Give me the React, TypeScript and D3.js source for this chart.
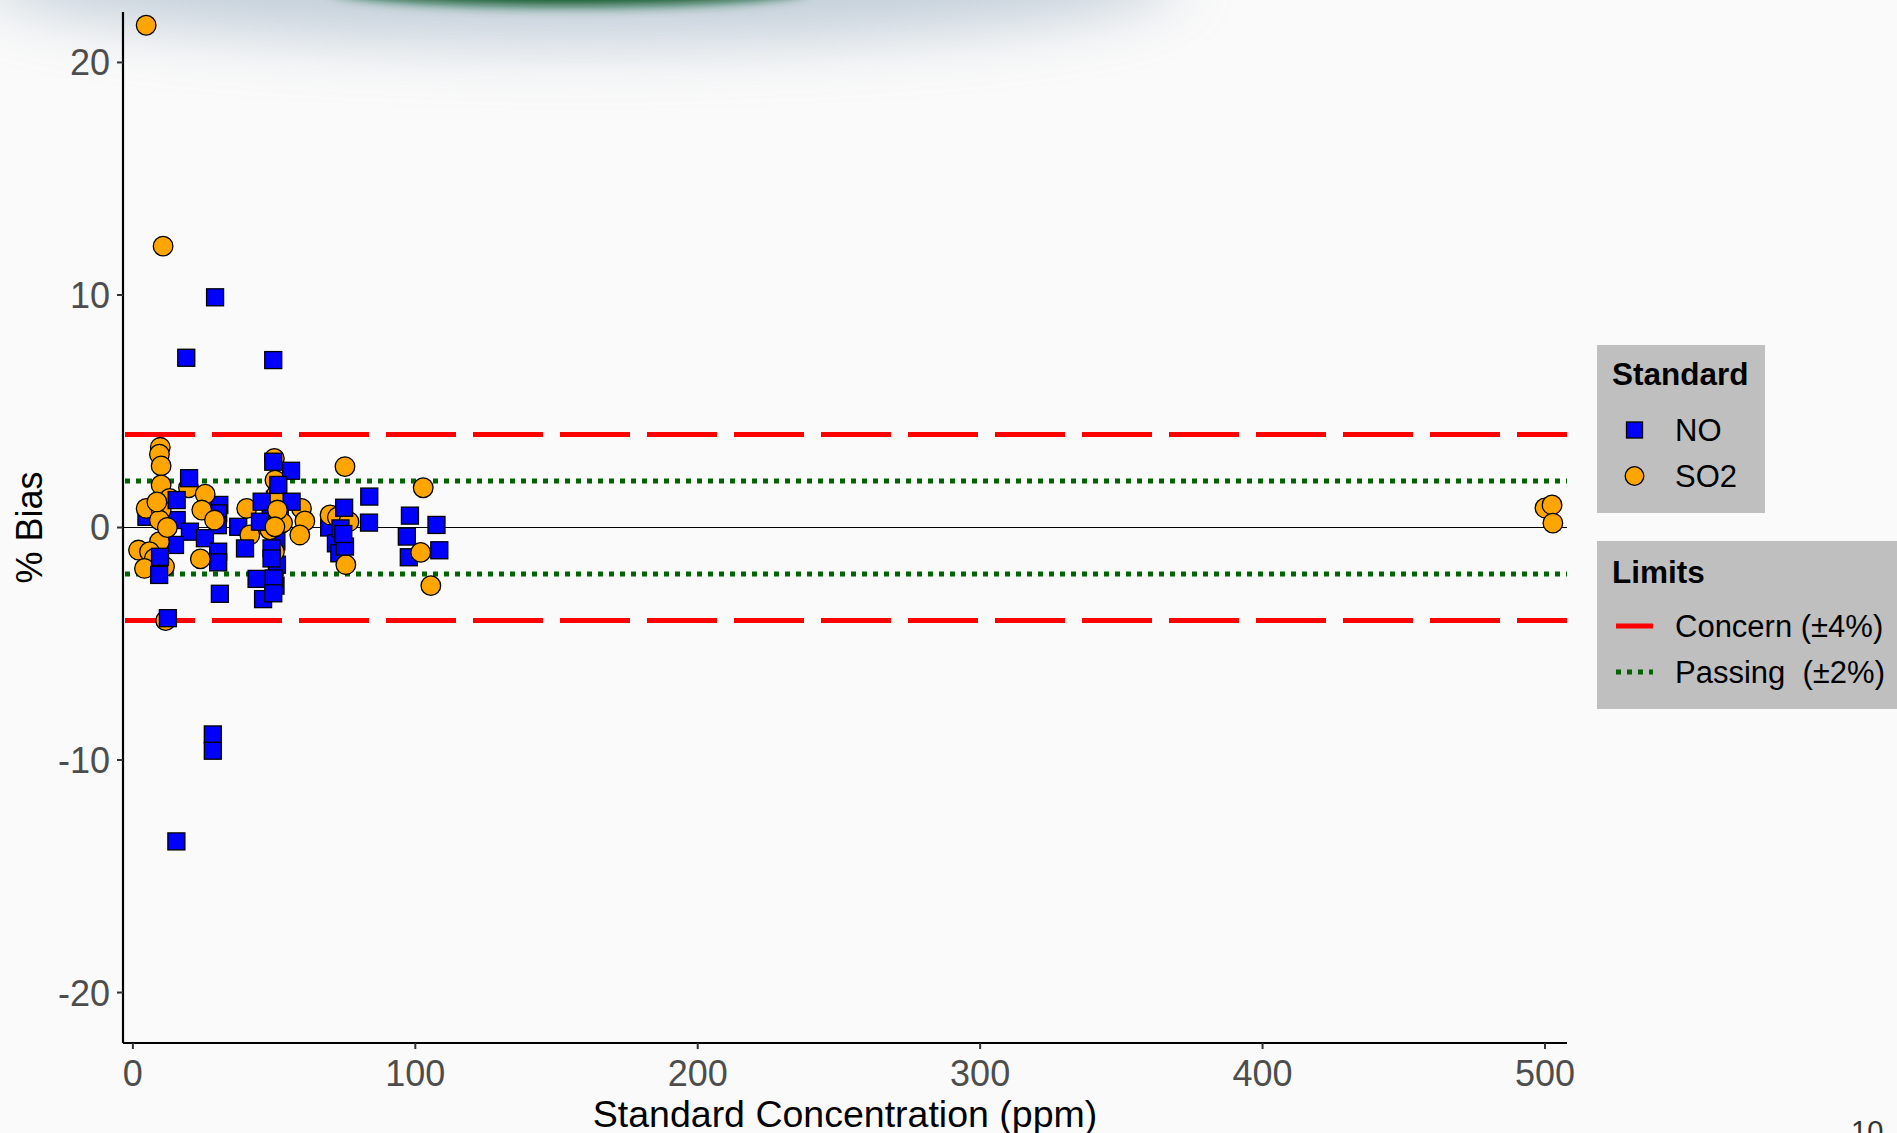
import React from "react";
import * as d3 from "d3";

const noX = [29.1, 18.9, 49.7, 28.3, 28.3, 15.4, 19.9, 15.5, 30.6, 30.2, 30.1, 4.8, 15.5, 20.2, 25.5, 14.9, 30.2, 9.6, 30.2, 9.3, 30.8, 37.3, 39.7, 45.6, 45.0, 43.8, 46.1, 49.7, 56.0, 51.5, 56.2, 49.1, 49.1, 49.9, 49.7, 50.5, 50.8, 51.0, 50.5, 48.8, 52.0, 50.3, 74.8, 69.5, 73.5, 71.9, 75.1, 73.1, 74.5, 83.7, 83.6, 98.1, 107.5, 97.0, 97.7, 108.5, 12.4];
const noY = [9.9, 7.3, 7.2, -8.9, -9.6, -13.5, 2.12, 1.18, 0.97, 0.61, 0.1, 0.46, 0.32, -0.18, -0.46, -0.75, -1.04, -1.26, -1.5, -2.04, -2.85, 0.03, -0.9, 1.11, 0.25, -2.21, -3.08, 2.83, 2.44, 1.83, 1.11, -0.9, -1.33, -2.19, -2.83, -0.3, -0.6, -1.6, -2.5, 0.5, 0.4, 1.2, 0.85, 0.0, -0.04, -0.68, -0.82, -1.11, -0.28, 1.33, 0.21, 0.51, 0.11, -0.39, -1.28, -0.98, -3.9];

const so2X = [4.7, 10.7, 11.6, 9.7, 9.4, 10.0, 10.0, 19.7, 25.6, 13.0, 4.7, 10.0, 24.4, 9.4, 28.9, 9.4, 2.0, 5.9, 7.6, 23.9, 4.1, 11.2, 8.5, 12.2, 40.3, 41.4, 50.1, 50.3, 50.9, 51.2, 50.3, 59.7, 60.9, 59.1, 50.1, 48.5, 53.0, 75.1, 69.8, 72.4, 76.5, 75.4, 102.8, 101.9, 105.5, 500.0, 502.5, 502.8];
const so2Y = [21.6, 12.1, -4.0, 3.45, 3.15, 2.65, 1.83, 1.71, 1.43, 1.25, 0.82, 0.75, 0.75, 0.32, 0.32, -0.61, -0.97, -1.04, -1.33, -1.35, -1.76, -1.68, 1.1, 0.0, 0.82, -0.32, 2.97, 2.04, 1.43, 0.75, 0.03, 0.82, 0.28, -0.32, -1.04, -0.1, 0.2, 2.62, 0.54, 0.44, 0.25, -1.6, 1.71, -1.07, -2.5, 0.84, 0.97, 0.19];

// drawing order (which points overlap which)
const noTop = [6, 7, 17, 19, 22, 23, 24, 27, 28, 29, 30, 31, 32, 33, 34, 42, 44, 46, 48, 56];
const so2Top = [29, 30];

const xTicks = [0, 100, 200, 300, 400, 500];
const yTicks = [-20, -10, 0, 10, 20];
const concernLimit = 4;
const passingLimit = 2;

export default function App() {
  const W = 1897, H = 1133;
  const left = 123, right = 1567, top = 12, bottom = 1043;
  const x = d3.scaleLinear().domain([-3.5, 507.8]).range([left, right]);
  const y = d3.scaleLinear().domain([-22.17, 22.17]).range([bottom, top]);
  const so2 = so2X.map((v, i) => ({ x: v, y: so2Y[i] }));
  const no = noX.map((v, i) => ({ x: v, y: noY[i] }));
  const sq = 17;
  const font = "'Liberation Sans', Arial, sans-serif";
  const square = (d: { x: number; y: number }, i: number) => (
    <rect key={"n" + i} x={x(d.x) - sq / 2} y={y(d.y) - sq / 2} width={sq} height={sq}
      fill="#0000ff" stroke="#000" strokeWidth={1.3} />
  );
  const circle = (d: { x: number; y: number }, i: number) => (
    <circle key={"s" + i} cx={x(d.x)} cy={y(d.y)} r={9.8} fill="#ffa500" stroke="#000" strokeWidth={1.3} />
  );
  return (
    <svg width={W} height={H} style={{ position: "absolute", left: 0, top: 0 }} fontFamily={font}>
      <defs>
        <filter id="blurBig" x="-50%" y="-200%" width="200%" height="500%">
          <feGaussianBlur stdDeviation="30" />
        </filter>
        <filter id="blurSmall" x="-50%" y="-200%" width="200%" height="500%">
          <feGaussianBlur stdDeviation="6" />
        </filter>
        <clipPath id="panel">
          <rect x={left} y={top} width={right - left} height={bottom - top} />
        </clipPath>
      </defs>
      <rect x={0} y={0} width={W} height={H} fill="#fafafa" />
      {/* slide decoration at the top */}
      <ellipse cx={580} cy={-22} rx={600} ry={65} fill="#9fb2c4" opacity={0.6} filter="url(#blurBig)" />
      <ellipse cx={570} cy={-12} rx={240} ry={18} fill="#0a5a2c" filter="url(#blurSmall)" />

      {/* zero line */}
      <line x1={left} x2={right} y1={y(0)} y2={y(0)} stroke="#000" strokeWidth={1.2} />
      {/* limits */}
      <g clipPath="url(#panel)">
        {[concernLimit, -concernLimit].map((v) => (
          <line key={"c" + v} x1={left + 2} x2={right} y1={y(v)} y2={y(v)} stroke="#ff0000" strokeWidth={5} strokeDasharray="70 17" />
        ))}
        {[passingLimit, -passingLimit].map((v) => (
          <line key={"p" + v} x1={left + 2} x2={right} y1={y(v)} y2={y(v)} stroke="#006400" strokeWidth={5} strokeDasharray="5 6" />
        ))}
      </g>

      {/* points */}
      <g>
        {no.map((d, i) => (noTop.includes(i) ? null : square(d, i)))}
        {so2.map((d, i) => (so2Top.includes(i) ? null : circle(d, i)))}
        {no.map((d, i) => (noTop.includes(i) ? square(d, i) : null))}
        {so2.map((d, i) => (so2Top.includes(i) ? circle(d, i) : null))}
      </g>

      {/* axes */}
      <line x1={left} x2={left} y1={top} y2={bottom} stroke="#000" strokeWidth={2.2} />
      <line x1={left} x2={right} y1={bottom} y2={bottom} stroke="#000" strokeWidth={2.2} />
      {yTicks.map((t) => (
        <g key={"yt" + t}>
          <line x1={left - 6} x2={left} y1={y(t)} y2={y(t)} stroke="#333" strokeWidth={2} />
          <text x={110} y={y(t)} dy="0.36em" textAnchor="end" fontSize={36} fill="#4d4d4d">{t}</text>
        </g>
      ))}
      {xTicks.map((t) => (
        <g key={"xt" + t}>
          <line x1={x(t)} x2={x(t)} y1={bottom} y2={bottom + 6} stroke="#333" strokeWidth={2} />
          <text x={x(t)} y={1086} textAnchor="middle" fontSize={36} fill="#4d4d4d">{t}</text>
        </g>
      ))}
      <text x={(left + right) / 2} y={1127} textAnchor="middle" fontSize={37.5} fill="#000">Standard Concentration (ppm)</text>
      <text transform={`translate(42,${y(0)}) rotate(-90)`} textAnchor="middle" fontSize={36} fill="#000">% Bias</text>

      {/* legend: Standard */}
      <rect x={1597} y={345} width={168} height={168} fill="#bfbfbf" />
      <text x={1612} y={385} fontSize={31.5} fontWeight="bold" fill="#000">Standard</text>
      <rect x={1634.5 - 8} y={430 - 8} width={16} height={16} fill="#0000ff" stroke="#000" strokeWidth={1.3} />
      <text x={1675} y={441} fontSize={31} fill="#000">NO</text>
      <circle cx={1634.5} cy={476} r={9.3} fill="#ffa500" stroke="#000" strokeWidth={1.3} />
      <text x={1675} y={487} fontSize={31} fill="#000">SO2</text>

      {/* legend: Limits */}
      <rect x={1597} y={541} width={320} height={168} fill="#bfbfbf" />
      <text x={1612} y={583} fontSize={31.5} fontWeight="bold" fill="#000">Limits</text>
      <line x1={1616} x2={1653} y1={626} y2={626} stroke="#ff0000" strokeWidth={5} />
      <text x={1675} y={637} fontSize={31} fill="#000">Concern (±4%)</text>
      <line x1={1616} x2={1653} y1={672} y2={672} stroke="#006400" strokeWidth={5} strokeDasharray="5 6" />
      <text x={1675} y={683} fontSize={31} fill="#000" style={{ whiteSpace: "pre" }}>{"Passing  (±2%)"}</text>

      {/* page number */}
      <text x={1851} y={1141} fontSize={29} fill="#333">10</text>
    </svg>
  );
}
